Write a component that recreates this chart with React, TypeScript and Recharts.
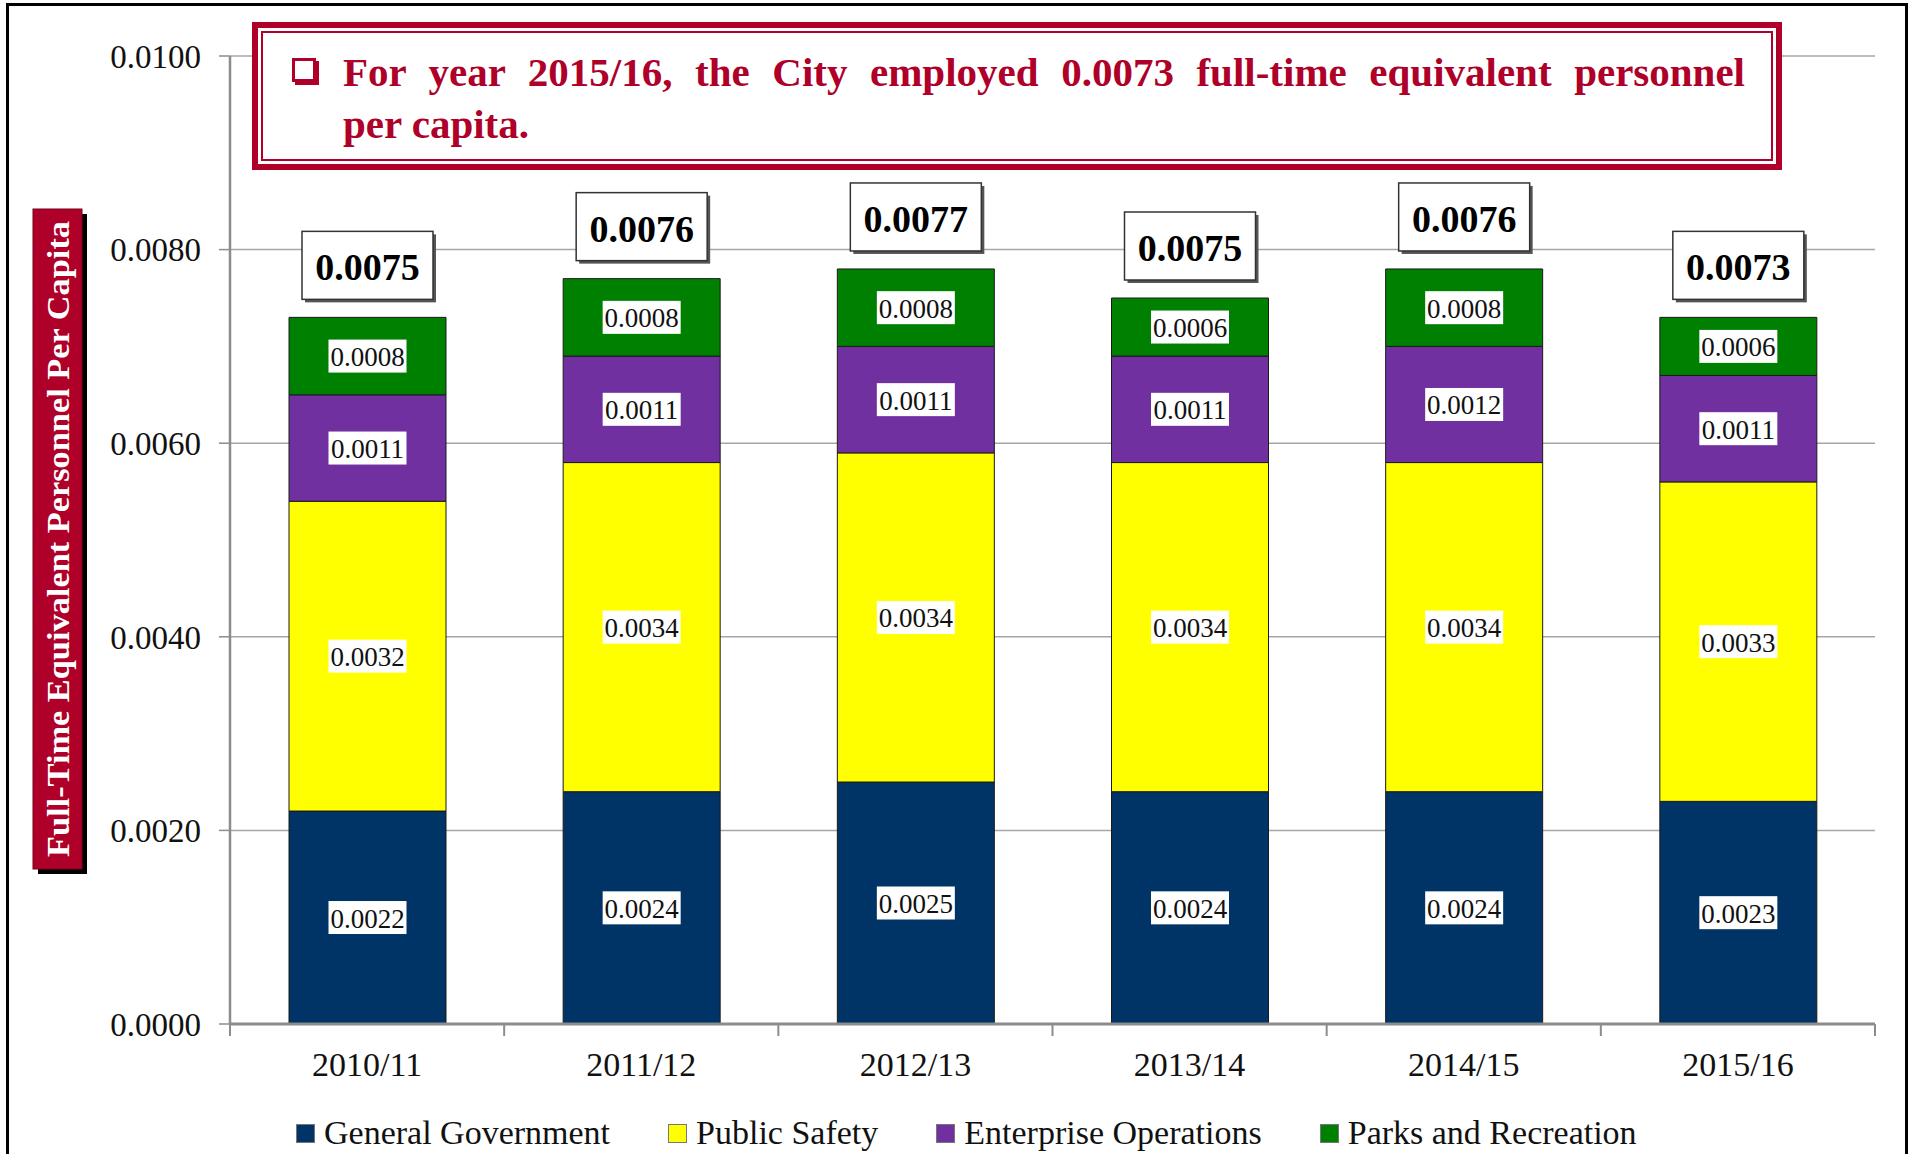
import { BarChart, Bar, XAxis, YAxis, CartesianGrid, Legend, LabelList } from "recharts"

const years = ["2010/11", "2011/12", "2012/13", "2013/14", "2014/15", "2015/16"]
const generalGovernment = [0.0022, 0.0024, 0.0025, 0.0024, 0.0024, 0.0023]
const publicSafety = [0.0032, 0.0034, 0.0034, 0.0034, 0.0034, 0.0033]
const enterpriseOperations = [0.0011, 0.0011, 0.0011, 0.0011, 0.0012, 0.0011]
const parksRecreation = [0.0008, 0.0008, 0.0008, 0.0006, 0.0008, 0.0006]
const totals = [0.0075, 0.0076, 0.0077, 0.0075, 0.0076, 0.0073]
const yTicks = [0, 0.002, 0.004, 0.006, 0.008, 0.01]

const seriesNames = ["General Government", "Public Safety", "Enterprise Operations", "Parks and Recreation"]
const seriesColors = ["#003366", "#FFFF00", "#7030A0", "#008000"]

const data = years.map((year, i) => ({
  year,
  gg: generalGovernment[i],
  ps: publicSafety[i],
  eo: enterpriseOperations[i],
  pr: parksRecreation[i],
  total: totals[i],
}))

const RED = "#AE0028"
const GRAY = "#8C8C8C"
const FONT = "'Liberation Serif', 'Times New Roman', serif"
const W = 1909
const H = 1154
const MARGIN = { top: 56, right: 34, left: 100, bottom: 0 }
const Y_AXIS_W = 130
const X_AXIS_H = 70
const LEGEND_H = 60
const PLOT_BOTTOM = H - LEGEND_H - X_AXIS_H
const HALF_BAND = (W - MARGIN.left - Y_AXIS_W - MARGIN.right) / years.length / 2

function YearTick(props: any) {
  const { x, y, payload, index } = props
  const tick = (tx: number) => (
    <line x1={tx} x2={tx} y1={PLOT_BOTTOM} y2={PLOT_BOTTOM + 12} stroke={GRAY} strokeWidth={2} />
  )
  return (
    <g>
      {tick(x - HALF_BAND)}
      {index === years.length - 1 && tick(x + HALF_BAND)}
      <text x={x} y={y} dy="0.71em" textAnchor="middle" fontSize={34} fontFamily={FONT} fill="#111">
        {payload.value}
      </text>
    </g>
  )
}

function SegmentLabel(props: any) {
  const { x, y, width, height, value } = props
  const cx = Number(x) + Number(width) / 2
  const cy = Number(y) + Number(height) / 2
  return (
    <g>
      <rect x={cx - 39} y={cy - 16.5} width={78} height={33} fill="#fff" />
      <text x={cx} y={cy + 1} textAnchor="middle" dominantBaseline="central" fontSize={27} fontFamily={FONT} fill="#111">
        {Number(value).toFixed(4)}
      </text>
    </g>
  )
}

function TotalLabel(props: any) {
  const { x, y, width, value } = props
  const cx = Number(x) + Number(width) / 2
  const bw = 131
  const bh = 68
  const by = Number(y) - 18 - bh
  return (
    <g>
      <rect x={cx - bw / 2 + 3} y={by + 3} width={bw} height={bh} fill="#555" />
      <rect x={cx - bw / 2} y={by} width={bw} height={bh} fill="#fff" stroke="#333" strokeWidth={1.5} />
      <text x={cx} y={by + bh / 2 + 2} textAnchor="middle" dominantBaseline="central" fontSize={38} fontWeight="bold" fontFamily={FONT} fill="#000">
        {Number(value).toFixed(4)}
      </text>
    </g>
  )
}

function LegendBox() {
  return (
    <div style={{ height: LEGEND_H, boxSizing: "border-box", paddingTop: 18, paddingLeft: 296, display: "flex", gap: 58, fontFamily: FONT, fontSize: 34, lineHeight: "34px", color: "#111" }}>
      {seriesNames.map((name, i) => (
        <div key={name} style={{ display: "flex", alignItems: "center", gap: 9 }}>
          <span style={{ width: 17, height: 17, background: seriesColors[i], border: "1px solid #777", display: "inline-block" }} />
          <span>{name}</span>
        </div>
      ))}
    </div>
  )
}

export default function App() {
  return (
    <div style={{ position: "absolute", left: 0, top: 0, width: W, height: H, background: "#fff", overflow: "hidden" }}>
      {/* outer frame */}
      <div style={{ position: "absolute", left: 6, top: 3, width: 1902, height: 1200, border: "3px solid #000", boxSizing: "border-box" }} />

      <div style={{ position: "absolute", left: 0, top: 0 }}>
        <BarChart width={W} height={H} data={data} margin={MARGIN}>
          <CartesianGrid vertical={false} stroke="#A6A6A6" strokeWidth={1.5} />
          <XAxis
            dataKey="year"
            height={X_AXIS_H}
            tickLine={false}
            tickSize={6}
            tickMargin={22}
            axisLine={{ stroke: GRAY, strokeWidth: 3 }}
            tick={YearTick}
            interval={0}
          />
          <YAxis
            width={Y_AXIS_W}
            domain={[0, 0.01]}
            ticks={yTicks}
            tickFormatter={(v: number) => v.toFixed(4)}
            tick={{ fontSize: 33, fontFamily: FONT, fill: "#111" }}
            tickLine={{ stroke: GRAY, strokeWidth: 1.5 }}
            tickSize={11}
            tickMargin={18}
            axisLine={{ stroke: GRAY, strokeWidth: 2.5 }}
          />
          <YAxis yAxisId="frame" orientation="right" width={0} domain={[0, 0.01]} tick={false} tickLine={false} axisLine={{ stroke: "#A6A6A6", strokeWidth: 1.5 }} />
          <Legend verticalAlign="bottom" height={LEGEND_H} content={LegendBox} wrapperStyle={{ left: 0, width: W, bottom: 0 }} />
          <Bar dataKey="gg" name={seriesNames[0]} stackId="a" fill={seriesColors[0]} stroke="#1a1a1a" strokeWidth={1} barSize={157} isAnimationActive={false}>
            <LabelList dataKey="gg" content={SegmentLabel} />
          </Bar>
          <Bar dataKey="ps" name={seriesNames[1]} stackId="a" fill={seriesColors[1]} stroke="#1a1a1a" strokeWidth={1} barSize={157} isAnimationActive={false}>
            <LabelList dataKey="ps" content={SegmentLabel} />
          </Bar>
          <Bar dataKey="eo" name={seriesNames[2]} stackId="a" fill={seriesColors[2]} stroke="#1a1a1a" strokeWidth={1} barSize={157} isAnimationActive={false}>
            <LabelList dataKey="eo" content={SegmentLabel} />
          </Bar>
          <Bar dataKey="pr" name={seriesNames[3]} stackId="a" fill={seriesColors[3]} stroke="#1a1a1a" strokeWidth={1} barSize={157} isAnimationActive={false}>
            <LabelList dataKey="pr" content={SegmentLabel} />
            <LabelList dataKey="total" content={TotalLabel} />
          </Bar>
        </BarChart>
      </div>

      {/* y-axis title box */}
      <svg style={{ position: "absolute", left: 0, top: 0 }} width={120} height={H}>
        <rect x={38} y={214} width={49} height={660} fill="#000" />
        <rect x={33} y={209} width={49} height={660} fill={RED} stroke="#7a001c" strokeWidth={1} />
        <text
          x={0}
          y={0}
          transform="translate(58, 539) rotate(-90)"
          textAnchor="middle"
          dominantBaseline="central"
          fontSize={32}
          fontWeight={600}
          fontFamily={FONT}
          fill="#fff"
          textLength={636}
          lengthAdjust="spacingAndGlyphs"
        >
          Full-Time Equivalent Personnel Per Capita
        </text>
      </svg>

      {/* headline box */}
      <div style={{ position: "absolute", left: 252, top: 22, width: 1530, height: 148, border: `6px solid ${RED}`, boxSizing: "border-box", background: "#fff" }}>
        <div style={{ position: "absolute", inset: 3, border: `2px solid ${RED}` }} />
        <span style={{ position: "absolute", left: 34, top: 30, width: 18, height: 18, border: `3px solid ${RED}`, boxShadow: `3px 3px 0 ${RED}`, background: "#fff" }} />
        <div style={{ position: "absolute", left: 85, top: 18, width: 1402, fontFamily: FONT, fontWeight: "bold", fontSize: 41, lineHeight: "52px", color: RED }}>
          <div style={{ textAlign: "justify", textAlignLast: "justify", whiteSpace: "nowrap" }}>
            For year 2015/16, the City employed 0.0073 full-time equivalent personnel
          </div>
          <div>per capita.</div>
        </div>
      </div>
    </div>
  )
}
